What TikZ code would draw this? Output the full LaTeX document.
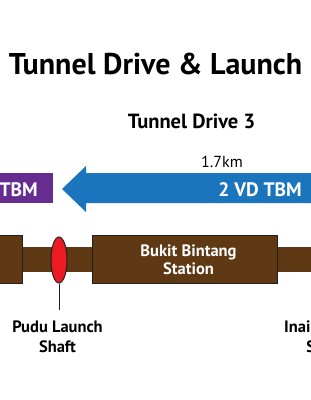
\documentclass[tikz,border=0pt]{standalone}
\usepackage{fontspec}
\setmainfont{PT Sans}
\usetikzlibrary{shapes.geometric}
\definecolor{tunnelbrown}{RGB}{94,57,20}
\definecolor{tbmblue}{RGB}{27,117,188}
\definecolor{tbmpurple}{RGB}{102,45,145}
\definecolor{shaftred}{RGB}{237,28,36}
\definecolor{edgegray}{RGB}{35,31,32}
\begin{document}
\begin{tikzpicture}[x=1bp,y=-1bp,
  boxlabel/.style={text=white, inner sep=0pt, font=\bfseries\fontsize{19.5bp}{22bp}\selectfont},
  placelabel/.style={align=center, inner sep=0pt, font=\bfseries\fontsize{16.5bp}{20bp}\selectfont},
  stationbox/.style={draw=edgegray, line width=1bp, fill=tunnelbrown}]
\useasboundingbox (0,0) rectangle (311,400);
\clip (0,0) rectangle (311,400);
\node[anchor=base, font=\bfseries\fontsize{30bp}{36bp}\selectfont] (title) at (155.5,74) {Tunnel Drive \& Launch};
\node[anchor=base, font=\bfseries\fontsize{20.5bp}{24bp}\selectfont] (drive) at (191.5,128) {Tunnel Drive 3};
\node[anchor=base, font=\fontsize{16bp}{19bp}\selectfont] (length) at (222,167) {1.7km};
% machines
\fill[tbmpurple] (-5,173) rectangle (53,203);
\node[boxlabel, anchor=base east] (oldtbm) at (38,196) {TBM};
\fill[tbmblue] (62,189) -- (86,166) -- (86,173) -- (330,173) -- (330,203) -- (86,203) -- (86,212) -- cycle;
\node[boxlabel, anchor=base east] (vdtbm) at (302,196) {2 VD TBM};
% tunnel line
\fill[tunnelbrown] (-5,247) rectangle (320,272);
\draw[stationbox] (-10,235) rectangle (22,283);
\node[stationbox, minimum width=184bp, minimum height=48bp] (bukit) at (185,259) {};
\node[placelabel, anchor=base, text=white, font=\bfseries\fontsize{16.5bp}{18bp}\selectfont] (bukitname) at (188.5,274) {Bukit Bintang\\Station};
\node[draw=edgegray, line width=1bp, fill=shaftred, ellipse, inner sep=0pt,
  minimum width=16bp, minimum height=46bp] (pudushaft) at (59,260) {};
\coordinate (pudutick) at (59,310);
\draw[edgegray, line width=1bp] (pudushaft.south) -- (pudutick);
\node[placelabel, anchor=base] (pudu) at (57.5,352) {Pudu Launch\\Shaft};
\node[placelabel, anchor=base west] (inai) at (284,352) {Inai Launch\\Shaft};
\end{tikzpicture}
\end{document}
